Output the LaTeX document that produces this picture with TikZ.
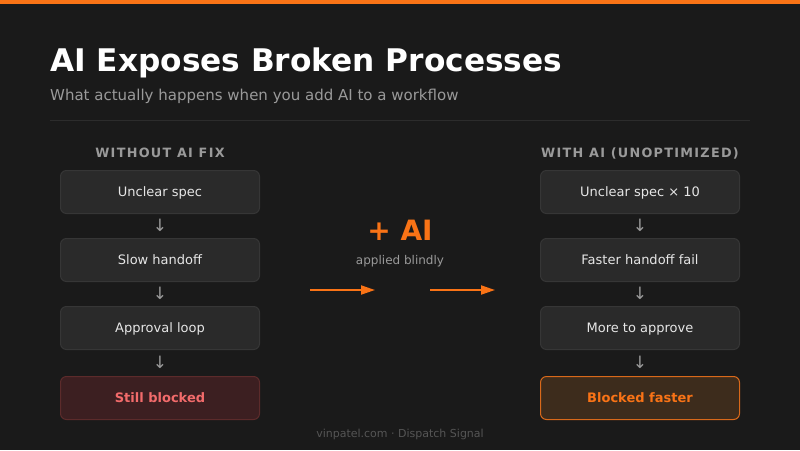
\documentclass[tikz,border=0pt]{standalone}
\usepackage{fontspec}
\setmainfont{DejaVu Sans}
\usepackage{xcolor}
\usetikzlibrary{arrows.meta,positioning}

\definecolor{bgdark}{HTML}{1A1A1A}
\definecolor{accent}{HTML}{F97316}
\definecolor{boxfill}{HTML}{2A2A2A}
\definecolor{boxline}{HTML}{363636}
\definecolor{boxtext}{HTML}{E6E6E6}
\definecolor{headgrey}{HTML}{9A9A9A}
\definecolor{rulegrey}{HTML}{2C2C2C}
\definecolor{footgrey}{HTML}{555555}
\definecolor{redfill}{HTML}{3C1F21}
\definecolor{redline}{HTML}{5C2B2B}
\definecolor{redtext}{HTML}{F26B6B}
\definecolor{ambfill}{HTML}{3D2C1C}
\definecolor{ambline}{HTML}{D9691A}

\begin{document}
\begin{tikzpicture}[
    x=1pt, y=-1pt,
    node distance=24pt,
    stepbox/.style={draw=boxline, fill=boxfill, line width=1pt, rounded corners=6pt,
        minimum width=199pt, minimum height=43pt, text height=10pt, text depth=0.5pt,
        text=boxtext, font=\fontsize{13}{15}\selectfont},
    stuck/.style={stepbox, draw=redline, fill=redfill, text=redtext, font=\fontsize{13}{15}\selectfont\bfseries},
    fast/.style={stepbox, draw=ambline, fill=ambfill, text=accent, font=\fontsize{13}{15}\selectfont\bfseries},
    colhead/.style={text=headgrey, font=\fontsize{12.8}{15}\selectfont\bfseries\addfontfeature{LetterSpace=10}},
    downmark/.style={text=headgrey, font=\fontsize{17}{17}\selectfont, inner sep=0pt},
    flow/.style={-{Triangle[length=14pt,width=9pt]}, draw=accent, line width=2pt}
]

% Background and frame
\fill[bgdark] (0,0) rectangle (800,450);
\useasboundingbox (0,0) rectangle (800,450);
\fill[accent] (0,0) rectangle (800,4);

\node[anchor=base west, inner sep=0pt, text=white, font=\fontsize{31.2}{34}\selectfont\bfseries] (title) at (50,71) {AI Exposes Broken Processes};
\node[anchor=base west, inner sep=0pt, text=headgrey, font=\fontsize{15}{18}\selectfont] (subtitle) at (50,100) {What actually happens when you add AI to a workflow};
\coordinate (rule_l) at (50,120);
\coordinate (rule_r) at (750,120);
\draw[rulegrey, line width=1pt] (rule_l) -- (rule_r);

% Left column
\node[colhead] (head_left) at (160,153) {WITHOUT AI FIX};
\node[stepbox] (spec_left) at (160,192) {Unclear spec};
\node[stepbox, below=of spec_left] (handoff_left) {Slow handoff};
\node[stepbox, below=of handoff_left] (approve_left) {Approval loop};
\node[stuck, below=26pt of approve_left] (blocked_left) {Still blocked};

% Right column
\node[colhead] (head_right) at (640,153) {WITH AI (UNOPTIMIZED)};
\node[stepbox] (spec_right) at (640,192) {Unclear spec × 10};
\node[stepbox, below=of spec_right] (handoff_right) {Faster handoff fail};
\node[stepbox, below=of handoff_right] (approve_right) {More to approve};
\node[fast, below=26pt of approve_right] (blocked_right) {Blocked faster};

% Middle
\node[text=accent, font=\fontsize{28}{30}\selectfont\bfseries] (plus_ai) at (400,230) {+ AI};
\node[text=headgrey, font=\fontsize{12}{14}\selectfont] (blindly) at (400,261) {applied blindly};
\coordinate (arr1_s) at (310,290);
\coordinate (arr1_e) at (375,290);
\coordinate (arr2_s) at (430,290);
\coordinate (arr2_e) at (495,290);

% Connections
\path (spec_left) -- node[downmark, yshift=1pt] {↓} (handoff_left);
\path (handoff_left) -- node[downmark, yshift=1pt] {↓} (approve_left);
\path (approve_left) -- node[downmark, yshift=1pt] {↓} (blocked_left);
\path (spec_right) -- node[downmark, yshift=1pt] {↓} (handoff_right);
\path (handoff_right) -- node[downmark, yshift=1pt] {↓} (approve_right);
\path (approve_right) -- node[downmark, yshift=1pt] {↓} (blocked_right);
\draw[flow] (arr1_s) -- (arr1_e);
\draw[flow] (arr2_s) -- (arr2_e);

\node[text=footgrey, font=\fontsize{11}{13}\selectfont] (footer) at (400,434) {vinpatel.com · Dispatch Signal};

\end{tikzpicture}
\end{document}
